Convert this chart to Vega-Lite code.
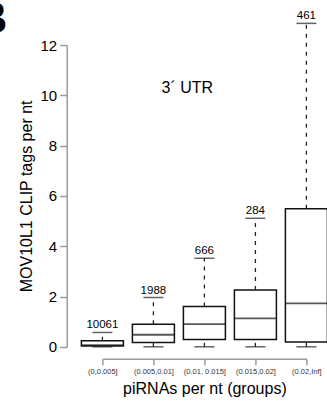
{
  "$schema": "https://vega.github.io/schema/vega-lite/v6.json",
  "width": 204,
  "height": 301.8,
  "autosize": "none",
  "padding": {"left": 102.4, "top": 45, "right": 20.6, "bottom": 59.2},
  "background": "white",
  "config": {
    "view": {"stroke": null},
    "axis": {"grid": false},
    "axisY": {"values": [0, 2, 4, 6, 8, 10, 12], "offset": 35.7, "domainColor": "#9a9a9a", "domainWidth": 1.5, "tickColor": "#9a9a9a", "tickWidth": 1.5, "tickSize": 7, "labelFontSize": 15, "labelFont": "Liberation Sans", "labelColor": "black", "labelPadding": 3, "titleFontSize": 16, "titleFont": "Liberation Sans", "titleFontWeight": "normal", "titleColor": "black", "titlePadding": 6}
  },
  "data": {"values": [
    {"group": "(0,0.005]", "lower": 0, "q1": 0.03, "median": 0.07, "q3": 0.24, "upper": 0.57, "n": "10061"},
    {"group": "(0.005,0.01]", "lower": 0, "q1": 0.17, "median": 0.48, "q3": 0.9, "upper": 1.96, "n": "1988"},
    {"group": "(0.01, 0.015]", "lower": 0, "q1": 0.29, "median": 0.9, "q3": 1.6, "upper": 3.52, "n": "666"},
    {"group": "(0.015,0.02]", "lower": 0, "q1": 0.29, "median": 1.13, "q3": 2.26, "upper": 5.11, "n": "284"},
    {"group": "(0.02,Inf]", "lower": 0, "q1": 0.19, "median": 1.73, "q3": 5.49, "upper": 12.86, "n": "461"}
  ]},
  "encoding": {
    "x": {"field": "group", "type": "ordinal", "sort": null,
      "scale": {"type": "point", "padding": 0},
      "axis": {"title": "piRNAs per nt (groups)", "labelAngle": 0, "offset": 12, "domainColor": "#9a9a9a", "domainWidth": 1.5, "tickColor": "#9a9a9a", "tickWidth": 1.5, "tickSize": 6, "labelFontSize": 7.5, "labelColor": "#333333", "labelFont": "Liberation Sans", "labelPadding": 3, "titleFont": "Liberation Sans", "titleFontSize": 16, "titleFontWeight": "normal", "titleColor": "black", "titlePadding": 5}}
  },
  "layer": [
    {"mark": {"type": "bar", "size": 42, "fill": "white", "stroke": "#111111", "strokeWidth": 1.5},
     "encoding": {
       "y": {"field": "q1", "type": "quantitative", "title": "MOV10L1 CLIP tags per nt", "scale": {"domain": [0, 12], "nice": false, "zero": false}},
       "y2": {"field": "q3"}
     }},
    {"mark": {"type": "rule", "strokeDash": [4, 5], "color": "#222222", "strokeWidth": 1.3},
     "encoding": {
       "y": {"field": "q3", "type": "quantitative", "title": "MOV10L1 CLIP tags per nt", "scale": {"domain": [0, 12], "nice": false, "zero": false}},
       "y2": {"field": "upper"}
     }},
    {"mark": {"type": "rule", "strokeDash": [4, 5], "color": "#222222", "strokeWidth": 1.3},
     "encoding": {
       "y": {"field": "lower", "type": "quantitative", "title": "MOV10L1 CLIP tags per nt", "scale": {"domain": [0, 12], "nice": false, "zero": false}},
       "y2": {"field": "q1"}
     }},
    {"mark": {"type": "tick", "size": 20, "thickness": 1.5, "color": "#222222", "orient": "horizontal"},
     "encoding": {
       "y": {"field": "upper", "type": "quantitative", "title": "MOV10L1 CLIP tags per nt", "scale": {"domain": [0, 12], "nice": false, "zero": false}}
     }},
    {"mark": {"type": "tick", "size": 20, "thickness": 1.5, "color": "#222222", "orient": "horizontal"},
     "encoding": {
       "y": {"field": "lower", "type": "quantitative", "title": "MOV10L1 CLIP tags per nt", "scale": {"domain": [0, 12], "nice": false, "zero": false}}
     }},
    {"mark": {"type": "tick", "size": 42, "thickness": 1.8, "color": "#111111", "orient": "horizontal"},
     "encoding": {
       "y": {"field": "median", "type": "quantitative", "title": "MOV10L1 CLIP tags per nt", "scale": {"domain": [0, 12], "nice": false, "zero": false}}
     }},
    {"mark": {"type": "text", "baseline": "alphabetic", "dy": -4, "fontSize": 11.5, "font": "Liberation Sans", "color": "black"},
     "encoding": {
       "y": {"field": "upper", "type": "quantitative", "title": "MOV10L1 CLIP tags per nt", "scale": {"domain": [0, 12], "nice": false, "zero": false}},
       "text": {"field": "n"}
     }},
    {"data": {"values": [{"group": "(0.01, 0.015]", "y": 10.3, "label": "3´ UTR"}]},
     "mark": {"type": "text", "baseline": "middle", "align": "center", "dx": -17, "fontSize": 16, "font": "Liberation Sans", "color": "black"},
     "encoding": {
       "y": {"field": "y", "type": "quantitative", "title": "MOV10L1 CLIP tags per nt", "scale": {"domain": [0, 12], "nice": false, "zero": false}},
       "text": {"field": "label"}
     }},
    {"data": {"values": [{"group": "(0,0.005]", "y": 12.48, "label": "B"}]},
     "mark": {"type": "text", "baseline": "alphabetic", "align": "left", "dx": -127, "fontSize": 44, "fontWeight": "bold", "font": "Liberation Sans", "color": "black"},
     "encoding": {
       "y": {"field": "y", "type": "quantitative", "title": "MOV10L1 CLIP tags per nt", "scale": {"domain": [0, 12], "nice": false, "zero": false}},
       "text": {"field": "label"}
     }}
  ]
}
